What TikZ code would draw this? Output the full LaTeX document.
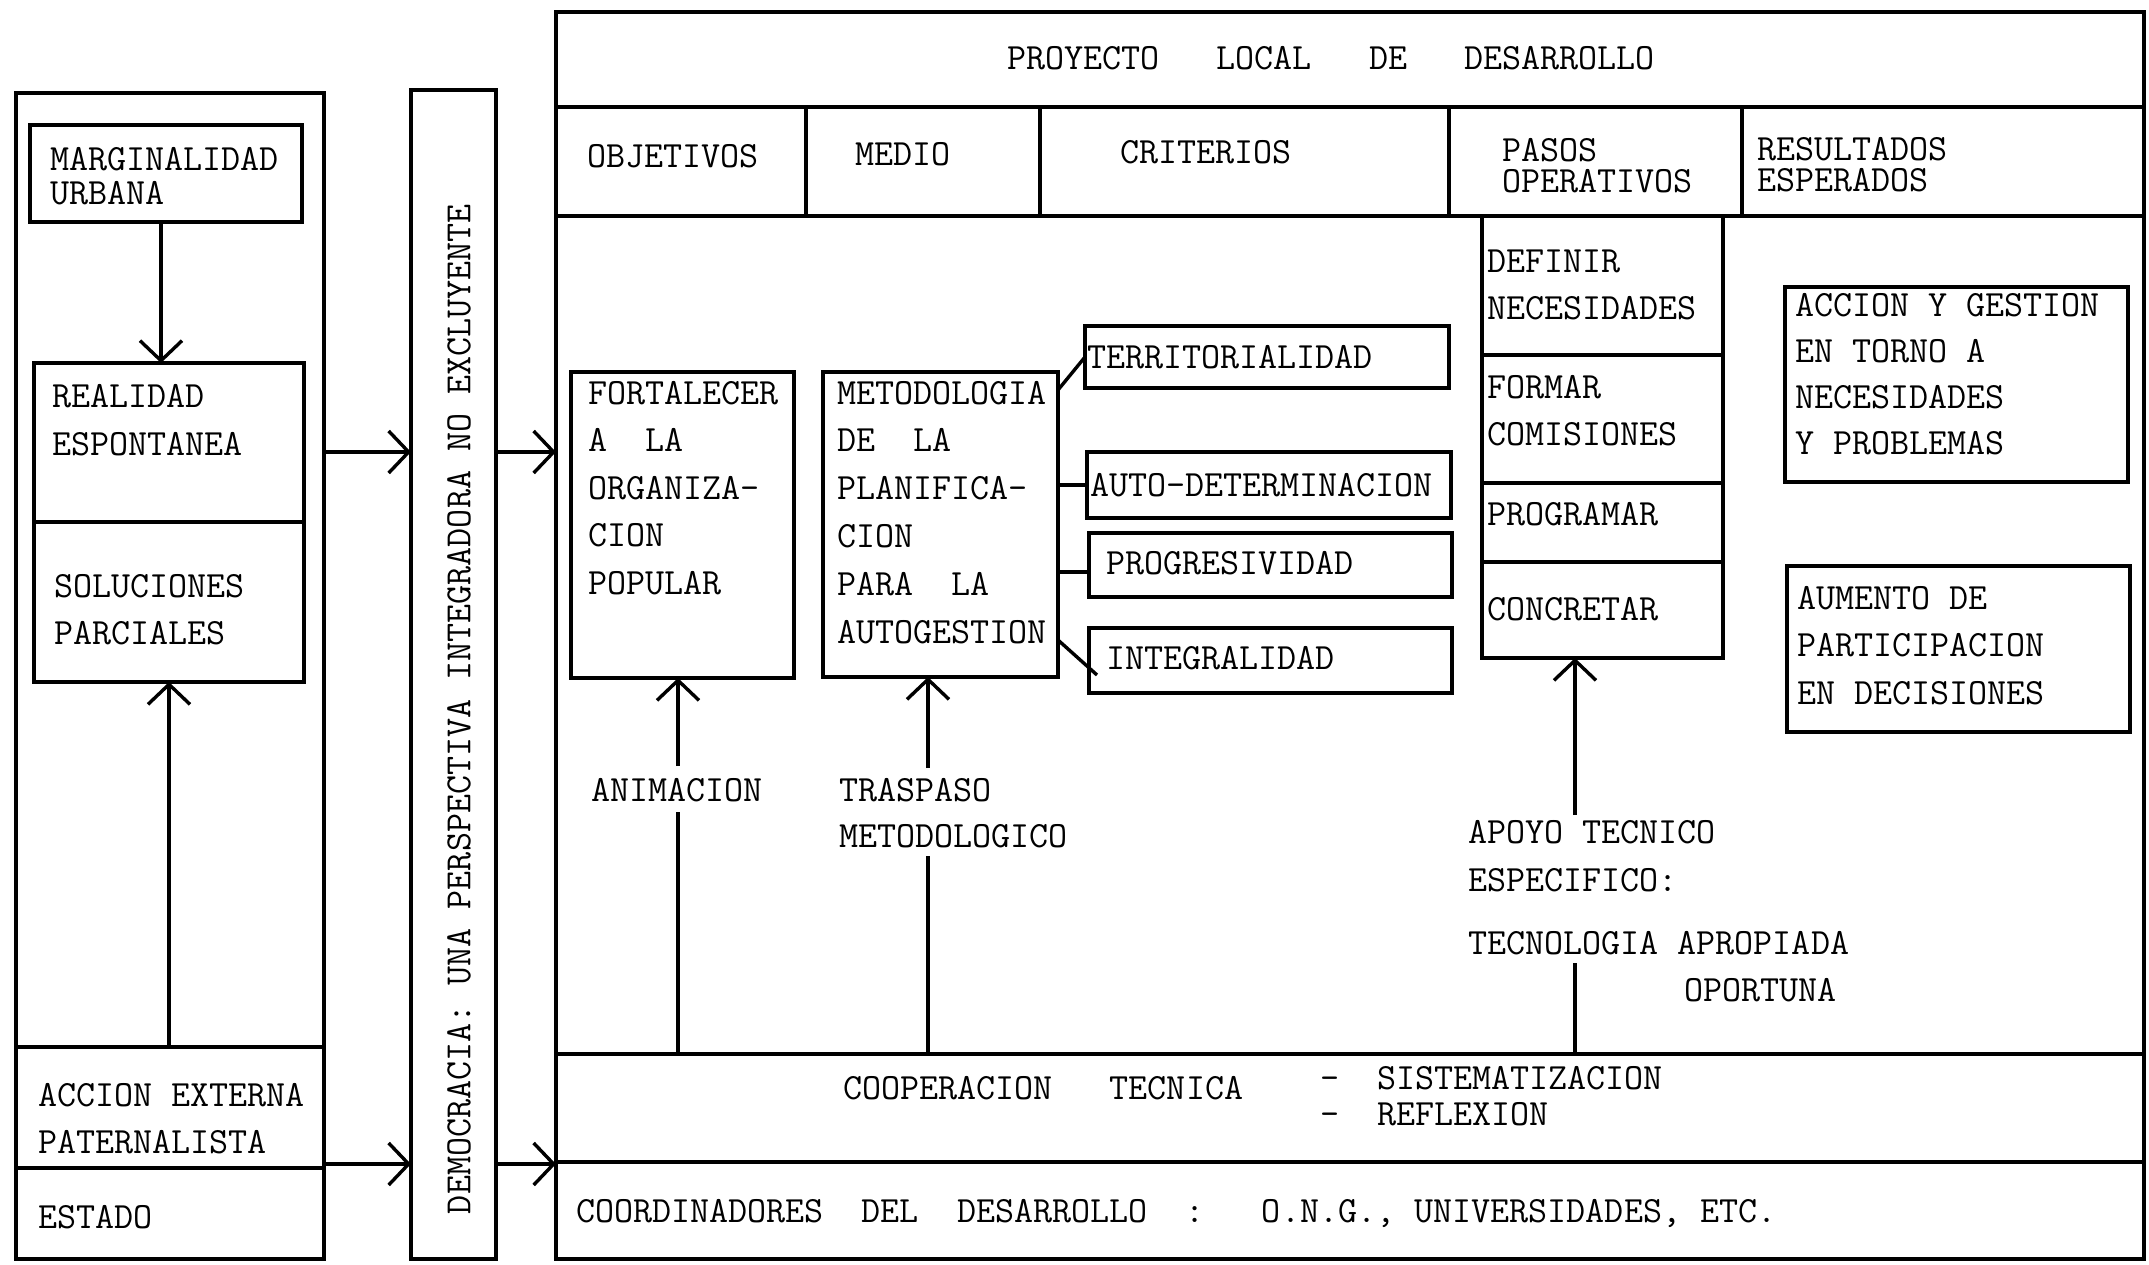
\documentclass[tikz,border=0pt]{standalone}
\usepackage{fontspec}
\usetikzlibrary{arrows.meta,calc}
\newcommand\mkbox[5]{\node[bx, minimum width={(#4-#2)*1pt}, minimum height={(#5-#3)*1pt}] (#1) at (#2,#3) {};}
\begin{document}
\begin{tikzpicture}[x=1pt,y=-1pt,
  txt/.style={font=\ttfamily\fontsize{37}{#1}\selectfont, inner sep=0pt, outer sep=0pt, anchor=base west, align=left},
  txt/.default=47,
  bx/.style={draw, line width=4pt, inner sep=0pt, outer sep=0pt, anchor=north west},
  ln/.style={line width=3.4pt},
  arr/.style={line width=3.4pt, -{Straight Barb[length=20pt,width=42pt]}},
]
\useasboundingbox[fill=white] (0,0) rectangle (2149,1264);

% ---------------- left column ----------------
\mkbox{leftbox}{16}{93}{324}{1259}
\mkbox{marg}{30}{125}{302}{222}
\mkbox{real}{34}{363}{304}{522}
\mkbox{sol}{34}{522}{304}{682}
\mkbox{accrow}{16}{1047}{324}{1168}
\mkbox{estado}{16}{1168}{324}{1259}

% (multi-line nodes: y is the baseline of the last line)
\node[txt=34] (tmarg) at (50,204) {MARGINALIDAD\\URBANA};
\node[txt=48] (treal) at (52,455) {REALIDAD\\ESPONTANEA};
\node[txt=47] (tsol) at (54,644) {SOLUCIONES\\PARCIALES};
\node[txt=47] (tacc) at (38,1153) {ACCION~EXTERNA\\PATERNALISTA};
\node[txt] (test) at (38,1228) {ESTADO};

\coordinate (xm) at (161,0);
\draw[arr] (marg.south -| xm) -- (real.north -| xm);
\draw[arr] (accrow.north -| sol.south) -- (sol.south);

% ---------------- banner ----------------
\mkbox{banner}{411}{90}{496}{1259}
\node[txt, rotate=90, anchor=west] (tban) at (459,1214)
  {DEMOCRACIA:~UNA~PERSPECTIVA~INTEGRADORA~NO~EXCLUYENTE};

% ---------------- right block ----------------
\mkbox{proj}{556}{12}{2144}{1259}
\mkbox{title}{556}{12}{2144}{107}
\mkbox{hobj}{556}{107}{806}{216}
\mkbox{hmed}{806}{107}{1040}{216}
\mkbox{hcrit}{1040}{107}{1449}{216}
\mkbox{hpas}{1449}{107}{1742}{216}
\mkbox{hres}{1742}{107}{2144}{216}

\node[txt] (ttitle) at (1007,69) {PROYECTO~~~LOCAL~~~DE~~~DESARROLLO};
\node[txt] (tobj) at (587,167) {OBJETIVOS};
\node[txt] (tmed) at (855,165) {MEDIO};
\node[txt] (tcrit) at (1120,163) {CRITERIOS};
\node[txt=31] (tpas) at (1502,192) {PASOS\\OPERATIVOS};
\node[txt=31] (tres) at (1757,191) {RESULTADOS\\ESPERADOS};

% pasos operativos column
\mkbox{pdef}{1482}{216}{1723}{355}
\mkbox{pform}{1482}{355}{1723}{483}
\mkbox{pprog}{1482}{483}{1723}{562}
\mkbox{pconc}{1482}{562}{1723}{658}
\node[txt=47] (tdef) at (1487,319) {DEFINIR\\NECESIDADES};
\node[txt=47] (tform) at (1487,445) {FORMAR\\COMISIONES};
\node[txt] (tprog) at (1487,525) {PROGRAMAR};
\node[txt] (tconc) at (1487,620) {CONCRETAR};

% objetivo / medio
\mkbox{fort}{571}{372}{794}{678}
\mkbox{meto}{823}{372}{1058}{677}
\node[txt=47.5] (tfort) at (588,594) {FORTALECER\\A~~LA\\ORGANIZA-\\CION\\POPULAR};
\node[txt=47.8] (tmeto) at (837,643) {METODOLOGIA\\DE~~LA\\PLANIFICA-\\CION\\PARA~~LA\\AUTOGESTION};

% criterios
\mkbox{terr}{1085}{326}{1449}{388}
\mkbox{auto}{1087}{452}{1451}{518}
\mkbox{prog}{1089}{533}{1452}{597}
\mkbox{integ}{1089}{628}{1452}{693}
\node[txt] (tterr) at (1087,368) {TERRITORIALIDAD};
\node[txt] (tauto) at (1090,496) {AUTO-DETERMINACION};
\node[txt] (tprogr) at (1106,574) {PROGRESIVIDAD};
\node[txt] (tinteg) at (1106,669) {INTEGRALIDAD};

\draw[ln] ($(meto.north east)+(0,18)$) -- ($(terr.north west)+(0,31)$);
\draw[ln] (meto.east |- auto.west) -- (auto.west);
\draw[ln] ($(meto.east |- prog.west)+(0,7)$) -- ($(prog.west)+(0,7)$);
\draw[ln] ($(meto.north east)+(0,268)$) -- ($(integ.north west)+(8,47)$);

% resultados
\mkbox{accg}{1785}{287}{2128}{482}
\mkbox{aum}{1787}{566}{2130}{732}
\node[txt=46] (taccg) at (1795,454) {ACCION~Y~GESTION\\EN~TORNO~A\\NECESIDADES\\Y~PROBLEMAS};
\node[txt=47.5] (taum) at (1797,704) {AUMENTO~DE\\PARTICIPACION\\EN~DECISIONES};

% lower rows
\mkbox{coop}{556}{1054}{2144}{1162}
\mkbox{coord}{556}{1162}{2144}{1259}
\node[txt] (tcoop) at (843,1099) {COOPERACION~~~TECNICA};
\node[txt=36] (tsist) at (1320,1125) {-~~SISTEMATIZACION\\-~~REFLEXION};
\node[txt] (tcoord) at (576,1222) {COORDINADORES~~DEL~~DESARROLLO~~:~~~O.N.G.,~UNIVERSIDADES,~ETC.};

% labels on the vertical arrows
\node[txt] (tanim) at (591,801) {ANIMACION};
\node[txt=46] (ttras) at (839,847) {TRASPASO\\METODOLOGICO};
\node[txt=48] (tapoyo) at (1468,891) {APOYO~TECNICO\\ESPECIFICO:};
\node[txt] (ttec) at (1468,954) {TECNOLOGIA~APROPIADA};
\node[txt] (topor) at (1684,1001) {OPORTUNA};

\coordinate (an1) at (678,766);
\coordinate (an2) at (678,812);
\coordinate (tr1) at (928,768);
\coordinate (tr2) at (928,856);
\coordinate (ap1) at (1575,815);
\coordinate (ap2) at (1575,963);
\draw[arr] (an1) -- (fort.south -| an1);
\draw[ln] (coop.north -| an2) -- (an2);
\draw[arr] (tr1) -- (meto.south -| tr1);
\draw[ln] (coop.north -| tr2) -- (tr2);
\draw[arr] (ap1) -- (pconc.south -| ap1);
\draw[ln] (coop.north -| ap2) -- (ap2);

% horizontal arrows
\coordinate (r1) at (0,452);
\coordinate (r2) at (0,1164);
\draw[arr] (leftbox.east |- r1) -- (banner.west |- r1);
\draw[arr] (banner.east |- r1) -- (proj.west |- r1);
\draw[arr] (leftbox.east |- r2) -- (banner.west |- r2);
\draw[arr] (banner.east |- r2) -- (proj.west |- r2);
\end{tikzpicture}
\end{document}
